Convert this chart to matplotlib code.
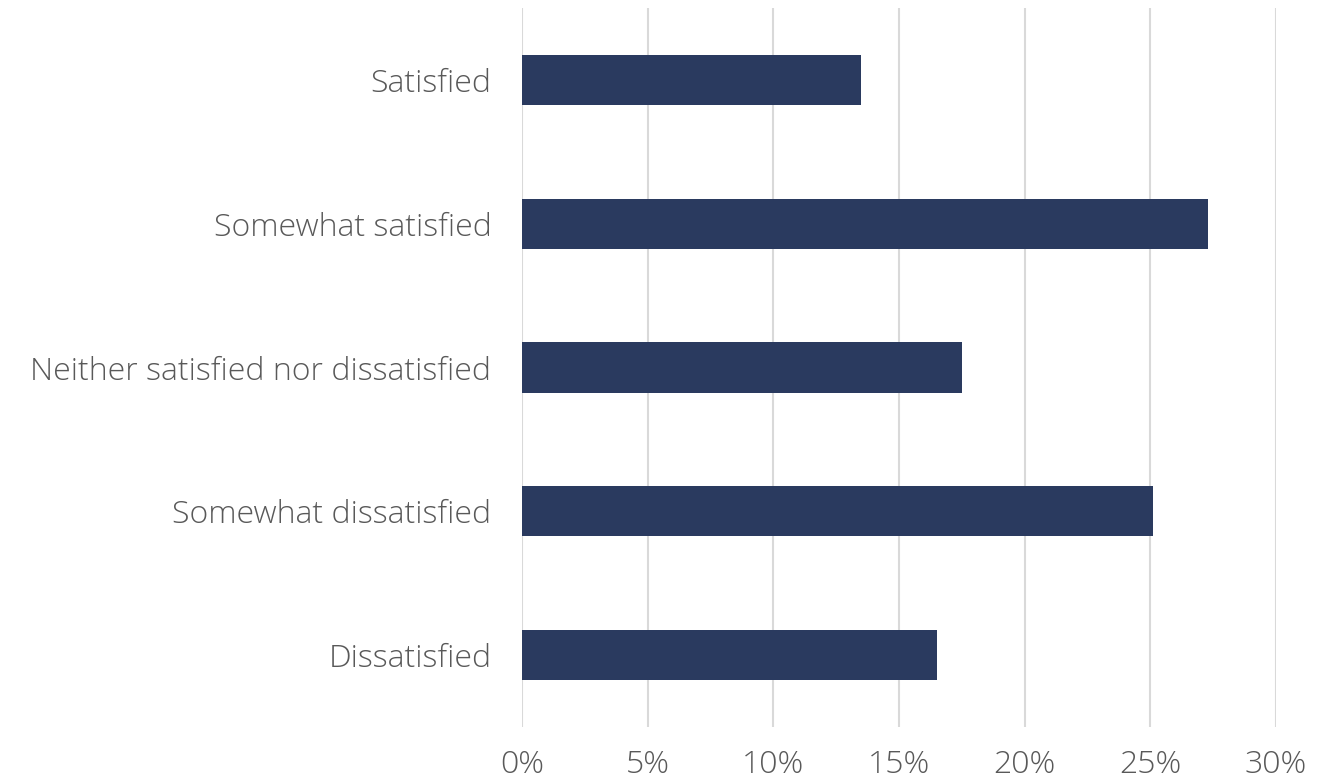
import matplotlib.pyplot as plt
from matplotlib.ticker import FuncFormatter

# data
categories = ["Satisfied", "Somewhat satisfied", "Neither satisfied nor dissatisfied",
              "Somewhat dissatisfied", "Dissatisfied"]
values = [13.5, 27.3, 17.5, 25.1, 16.5]
x_ticks = [0, 5, 10, 15, 20, 25, 30]

plt.rcParams['font.family'] = ['Open Sans', 'DejaVu Sans']
plt.rcParams['font.weight'] = 'light'

fig = plt.figure(figsize=(13.24, 7.84), dpi=100)
ax = fig.add_axes([522 / 1324, 1 - 727 / 784, (1276 - 522) / 1324, (727 - 8) / 784])

pos = list(range(len(categories)))
ax.barh(pos, values, height=0.35, color="#2A3A5F", zorder=3)

ax.set_ylim(len(categories) - 0.5, -0.5)
ax.set_xlim(0, 30)
ax.set_yticks(pos)
ax.set_yticklabels(categories)
ax.set_xticks(x_ticks)
ax.xaxis.set_major_formatter(FuncFormatter(lambda v, p: f"{v:.0f}%"))

ax.grid(axis="x", color="#D9D9D9", linewidth=1.5, zorder=0)
for s in ax.spines.values():
    s.set_visible(False)
ax.tick_params(axis="both", length=0, labelsize=23, labelcolor="#595959")
ax.tick_params(axis="x", pad=16)
ax.tick_params(axis="y", pad=22)

fig.savefig("out.png", dpi=100)
